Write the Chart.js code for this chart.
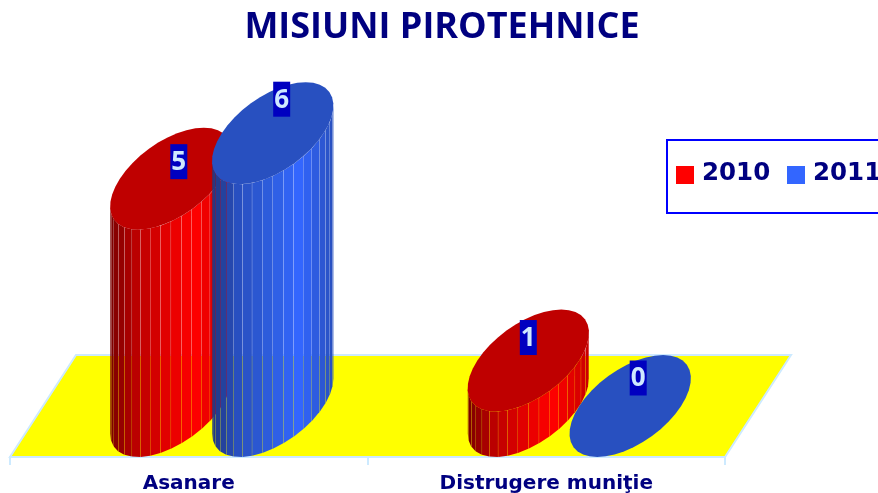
<!DOCTYPE html>
<html><head><meta charset="utf-8">
<style>html,body{margin:0;padding:0;background:#fff;overflow:hidden}canvas{display:block}</style>
<script src="https://cdn.jsdelivr.net/npm/chart.js@4"></script></head>
<body><div style="width:878px;height:493px;position:relative"><canvas id="c" width="878" height="493"></canvas></div>
<script>
const categories = ["Asanare", "Distrugere muniţie"];
const series2010 = [5, 1];
const series2011 = [6, 0];
const seriesNames = ["2010", "2011"];
const NAVY = "#000080";
const AXIS = "#cdeaff";
const ramps = [
  {top:"#bf0000", key:"#ff0000", stops:[[0,[120,0,0]],[.2,[184,0,0]],[.45,[224,0,0]],[.7,[255,0,0]],[1,[200,0,0]]]},
  {top:"#2850c0", key:"#3366ff", stops:[[0,[32,56,128]],[.2,[40,78,190]],[.5,[46,94,224]],[.72,[51,102,255]],[1,[40,80,190]]]}
];
const labelNudge = [[[8,-17],[0,-23]],[[9,-34],[8,-28]]];
function rampColor(stops,f){
  for(let i=1;i<stops.length;i++){
    if(f<=stops[i][0]){
      const a=stops[i-1],b=stops[i],k=(f-a[0])/(b[0]-a[0]);
      return "rgb("+a[1].map((v,j)=>Math.round(v+(b[1][j]-v)*k)).join(",")+")";
    }
  }
  return "rgb("+stops[stops.length-1][1].join(",")+")";
}
const depth = {dx:66, dy:-102};
const cylinders = {
  id:"cylinders",
  afterLayout(chart){
    chart.titleBlock.left=6; chart.titleBlock.right=878;
  },
  beforeDatasetsDraw(chart){
    const g=chart.ctx,a=chart.chartArea;
    g.save();
    g.beginPath();
    g.moveTo(a.left,a.bottom);g.lineTo(a.right,a.bottom);
    g.lineTo(a.right+depth.dx,a.bottom+depth.dy);g.lineTo(a.left+depth.dx,a.bottom+depth.dy);g.closePath();
    g.fillStyle="#ffff00";g.fill();g.strokeStyle=AXIS;g.lineWidth=2;g.stroke();
    g.restore();
  },
  afterDatasetsDraw(chart){
    const g=chart.ctx;
    const hx=depth.dx/2,hy=depth.dy/2;
    const t0=Math.atan2(hx,chart.getDatasetMeta(0).data[0].width/2);
    chart.data.datasets.forEach((ds,di)=>{
      const r=ramps[di];
      chart.getDatasetMeta(di).data.forEach((bar)=>{
        const rx=bar.width/2,cx=bar.x+hx,bY=bar.base+hy,tY=bar.y+hy;
        const P=(t,cy)=>[cx+rx*Math.cos(t)+hx*Math.sin(t),cy+hy*Math.sin(t)];
        const ext=Math.hypot(rx,hx);
        const N=18;
        if(bY-tY>0.5){
          for(let i=0;i<N;i++){
            const t1=t0-Math.PI*(N-i)/N,t2=t0-Math.PI*(N-i-1)/N;
            const a=P(t1,bY),b=P(t2,bY),c=P(t2,tY),d=P(t1,tY);
            const f=((a[0]+b[0])/2-(cx-ext))/(2*ext);
            const gap=0.22;
            g.beginPath();
            g.moveTo(a[0]+gap,a[1]);g.lineTo(b[0]-.02,b[1]);g.lineTo(c[0]-.02,c[1]);g.lineTo(d[0]+gap,d[1]);g.closePath();
            g.fillStyle=rampColor(r.stops,f);g.fill();
          }
        }
        g.beginPath();
        for(let i=0;i<40;i++){const p=P(i/40*Math.PI*2,tY);i?g.lineTo(p[0],p[1]):g.moveTo(p[0],p[1]);}
        g.closePath();g.fillStyle=r.top;g.fill();
      });
    });
    // value labels
    g.save();
    g.font="bold 26px 'Open Sans'";g.textAlign="center";g.textBaseline="middle";
    chart.data.datasets.forEach((ds,di)=>{
      chart.getDatasetMeta(di).data.forEach((bar,j)=>{
        const x=bar.x+hx+labelNudge[di][j][0],y=bar.y+hy+labelNudge[di][j][1];
        g.fillStyle="#0000c0";g.fillRect(x-8.5,y-17.5,17,35);
        g.fillStyle="#cfe9ff";g.fillText(String(ds.data[j]),x,y+1);
      });
    });
    // legend
    g.strokeStyle="#0000ff";g.lineWidth=2;g.fillStyle="#fff";
    g.beginPath();g.rect(667,140,230,73);g.fill();g.stroke();
    g.font="bold 24.5px 'DejaVu Sans'";g.textAlign="left";
    chart.data.datasets.forEach((ds,di)=>{
      const x=676+di*111;
      g.fillStyle=ramps[di].key;g.fillRect(x,166,18,18);
      g.fillStyle=NAVY;g.fillText(ds.label,x+26,174);
    });
    g.restore();
  }
};
new Chart(document.getElementById("c"),{
  type:"bar",
  data:{labels:categories,datasets:[
    {label:seriesNames[0],data:series2010,backgroundColor:"rgba(0,0,0,0)",categoryPercentage:0.57,barPercentage:1},
    {label:seriesNames[1],data:series2011,backgroundColor:"rgba(0,0,0,0)",categoryPercentage:0.57,barPercentage:1}
  ]},
  plugins:[cylinders],
  options:{
    responsive:false,animation:false,
    layout:{padding:{left:10,right:153,top:0,bottom:0}},
    plugins:{
      legend:{display:false},tooltip:{enabled:false},
      title:{display:true,text:"MISIUNI PIROTEHNICE",color:NAVY,font:{family:"'Open Sans'",size:36,weight:"bold"},padding:{top:6,bottom:135}}
    },
    scales:{
      x:{grid:{drawOnChartArea:false,color:AXIS,tickLength:8,tickColor:AXIS,lineWidth:2},border:{color:AXIS,width:2},
         afterFit(scale){scale.height=36;},
         ticks:{color:NAVY,font:{family:"'DejaVu Sans'",size:20,weight:"bold"},padding:7,maxRotation:0}},
      y:{display:false,min:0,max:6}
    }
  }
});
</script></body></html>
